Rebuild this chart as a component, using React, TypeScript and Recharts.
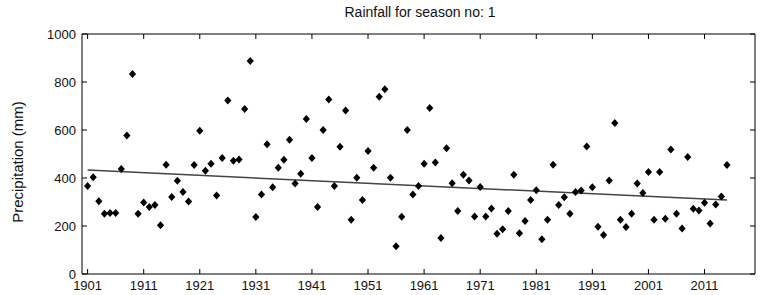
import React from 'react';
import { ScatterChart, Scatter, XAxis, YAxis } from 'recharts';

const years = [
  1901, 1902, 1903, 1904, 1905, 1906, 1907, 1908, 1909, 1910,
  1911, 1912, 1913, 1914, 1915, 1916, 1917, 1918, 1919, 1920,
  1921, 1922, 1923, 1924, 1925, 1926, 1927, 1928, 1929, 1930,
  1931, 1932, 1933, 1934, 1935, 1936, 1937, 1938, 1939, 1940,
  1941, 1942, 1943, 1944, 1945, 1946, 1947, 1948, 1949, 1950,
  1951, 1952, 1953, 1954, 1955, 1956, 1957, 1958, 1959, 1960,
  1961, 1962, 1963, 1964, 1965, 1966, 1967, 1968, 1969, 1970,
  1971, 1972, 1973, 1974, 1975, 1976, 1977, 1978, 1979, 1980,
  1981, 1982, 1983, 1984, 1985, 1986, 1987, 1988, 1989, 1990,
  1991, 1992, 1993, 1994, 1995, 1996, 1997, 1998, 1999, 2000,
  2001, 2002, 2003, 2004, 2005, 2006, 2007, 2008, 2009, 2010,
  2011, 2012, 2013, 2014, 2015,
];

const rainfall = [
  367, 403, 303, 251, 254, 254, 437, 577, 833, 251,
  298, 279, 287, 203, 455, 321, 389, 342, 302, 454,
  597, 430, 459, 327, 483, 723, 472, 477, 687, 888,
  237, 331, 541, 361, 443, 476, 559, 377, 418, 646,
  483, 279, 600, 727, 367, 530, 681, 226, 401, 308,
  512, 443, 739, 770, 401, 116, 239, 600, 331, 367,
  459, 692, 465, 150, 524, 378, 262, 414, 390, 240,
  363, 240, 273, 168, 186, 262, 414, 170, 221, 308,
  349, 145, 226, 455, 287, 320, 251, 342, 348, 531,
  361, 197, 163, 390, 629, 226, 196, 251, 377, 337,
  425, 226, 425, 230, 519, 251, 190, 488, 272, 265,
  297, 210, 290, 323, 454,
];

const trendYears = [1901, 2015];
const trendValues = [433, 308];

const xTicks = [1901, 1911, 1921, 1931, 1941, 1951, 1961, 1971, 1981, 1991, 2001, 2011];
const yTicks = [0, 200, 400, 600, 800, 1000];

const points = years.map((y, i) => ({ year: y, value: rainfall[i] }));
const trend = trendYears.map((y, i) => ({ year: y, value: trendValues[i] }));

const FONT = '"Liberation Sans", Arial, sans-serif';

const Diamond = (props: any) => {
  const { cx, cy } = props;
  if (cx == null || cy == null) return <g />;
  const w = 3.6;
  const h = 4;
  return (
    <polygon
      points={`${cx},${cy - h} ${cx + w},${cy} ${cx},${cy + h} ${cx - w},${cy}`}
      fill="#000"
      stroke="none"
    />
  );
};

const Nothing = () => <g />;

export default function App() {
  const tickStyle = { fontSize: 13, fill: '#111', fontFamily: FONT };
  const axisLine = { stroke: '#000', strokeWidth: 1 };
  const tickLine = { stroke: '#000', strokeWidth: 1 };
  const blank = () => '';
  return (
    <div style={{ position: 'absolute', left: 0, top: 0, width: 765, height: 295, background: '#fff', fontFamily: FONT }}>
      <ScatterChart width={765} height={295} margin={{ top: 33, right: 9, bottom: 0, left: 0 }}>
        <XAxis
          xAxisId={0}
          type="number"
          dataKey="year"
          domain={[1900, 2020]}
          ticks={xTicks}
          orientation="bottom"
          height={21}
          tickSize={-5}
          tickMargin={12}
          axisLine={axisLine}
          tickLine={tickLine}
          tick={tickStyle}
          interval={0}
          allowDataOverflow
        />
        <XAxis
          xAxisId="top"
          type="number"
          dataKey="year"
          domain={[1900, 2020]}
          ticks={xTicks}
          orientation="top"
          height={1}
          tickSize={-5}
          axisLine={axisLine}
          tickLine={tickLine}
          tickFormatter={blank}
          interval={0}
          allowDataOverflow
        />
        <YAxis
          yAxisId={0}
          type="number"
          dataKey="value"
          domain={[0, 1000]}
          ticks={yTicks}
          orientation="left"
          width={82}
          tickSize={-5}
          tickMargin={11}
          axisLine={axisLine}
          tickLine={tickLine}
          tick={tickStyle}
          interval={0}
          allowDataOverflow
        />
        <YAxis
          yAxisId="right"
          type="number"
          dataKey="value"
          domain={[0, 1000]}
          ticks={yTicks}
          orientation="right"
          width={1}
          tickSize={-5}
          axisLine={axisLine}
          tickLine={tickLine}
          tickFormatter={blank}
          interval={0}
          allowDataOverflow
        />
        <Scatter
          data={trend}
          xAxisId={0}
          yAxisId={0}
          line={{ stroke: '#444', strokeWidth: 1.5 }}
          shape={Nothing}
          isAnimationActive={false}
        />
        <Scatter
          data={points}
          xAxisId={0}
          yAxisId={0}
          shape={Diamond}
          isAnimationActive={false}
        />
      </ScatterChart>
      <div
        style={{
          position: 'absolute',
          left: 220,
          width: 400,
          top: 4,
          textAlign: 'center',
          fontSize: 14,
          color: '#111',
          lineHeight: '16px',
        }}
      >
        Rainfall for season no: 1
      </div>
      <div
        style={{
          position: 'absolute',
          left: 18,
          top: 162,
          width: 200,
          marginLeft: -100,
          marginTop: -9,
          lineHeight: '18px',
          textAlign: 'center',
          fontSize: 15,
          color: '#111',
          transform: 'rotate(-90deg)',
          whiteSpace: 'nowrap',
        }}
      >
        Precipitation (mm)
      </div>
    </div>
  );
}
